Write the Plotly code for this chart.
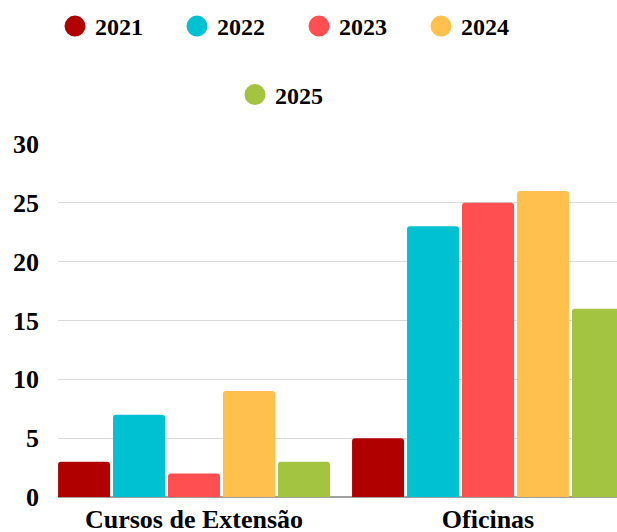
import plotly.graph_objects as go

categories = ["Cursos de Extensão", "Oficinas"]
years = ["2021", "2022", "2023", "2024", "2025"]
values_2021 = [3, 5]
values_2022 = [7, 23]
values_2023 = [2, 25]
values_2024 = [9, 26]
values_2025 = [3, 16]
series = [values_2021, values_2022, values_2023, values_2024, values_2025]
colors = ["#B10000", "#00C1D1", "#FF4F50", "#FFC04E", "#A2C440"]
y_ticks = [0, 5, 10, 15, 20, 25, 30]

FONT = "Liberation Serif"
W, H = 617, 532

fig = go.Figure()
for name, vals, col in zip(years, series, colors):
    fig.add_trace(go.Bar(
        x=categories, y=vals, name=name, showlegend=False,
        marker=dict(color=col, line=dict(width=0), cornerradius=3),
        legendgroup=name,
    ))
# legend entries (circle symbols)
for i, (name, col) in enumerate(zip(years, colors)):
    fig.add_trace(go.Scatter(
        x=[None], y=[None], mode="markers", name=name, legendgroup=name,
        marker=dict(color=col, size=16, line=dict(color=col, width=5)),
        legend="legend" if i < 4 else "legend2",
        hoverinfo="skip",
    ))

legend_font = dict(family=FONT, size=24, color="black", weight="bold")
fig.update_layout(
    width=W, height=H,
    margin=dict(l=58, r=0, t=144, b=34.5, autoexpand=False),
    paper_bgcolor="white", plot_bgcolor="white",
    barmode="group", bargap=0.065, bargroupgap=0.0545,
    font=dict(family=FONT, size=26, color="black", weight="bold"),
    legend=dict(
        orientation="h", xref="container", yref="container",
        x=55 / W, xanchor="left", y=1 - 26.5 / H, yanchor="middle",
        font=legend_font, entrywidth=77, entrywidthmode="pixels",
        bgcolor="rgba(0,0,0,0)", itemclick=False,
    ),
    legend2=dict(
        orientation="h", xref="container", yref="container",
        x=235 / W, xanchor="left", y=1 - 95 / H, yanchor="middle",
        font=legend_font, bgcolor="rgba(0,0,0,0)", itemclick=False,
    ),
    xaxis=dict(
        type="category", range=[-0.4626, 1.4388], showgrid=False,
        showline=False, ticks="", ticklabelstandoff=4, automargin=False,
        tickfont=dict(family=FONT, size=26, color="black", weight="bold"),
    ),
    yaxis=dict(
        range=[0, 30], tickvals=y_ticks, showgrid=True, gridcolor="#d9d9d9",
        gridwidth=1, zeroline=True, zerolinecolor="#a0a0a0", zerolinewidth=1.5,
        ticks="", ticklabelstandoff=18, automargin=False,
        tickfont=dict(family=FONT, size=26, color="black", weight="bold"),
    ),
)

fig.write_html(
    "out.html",
    config={"displayModeBar": False},
    post_script="document.body.style.margin='0';document.documentElement.style.overflow='hidden';",
)
